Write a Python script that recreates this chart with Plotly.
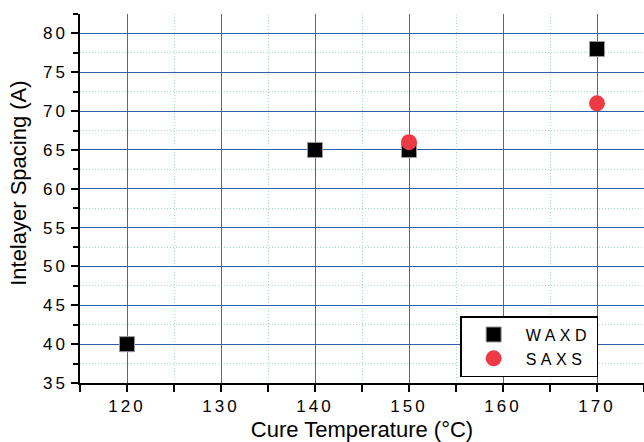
import plotly.graph_objects as go

waxd_x = [120, 140, 150, 170]
waxd_y = [40, 65, 65, 78]
saxs_x = [150, 170]
saxs_y = [66, 71]

fig = go.Figure()
fig.add_trace(go.Scatter(x=waxd_x, y=waxd_y, mode="markers", name="WAXD",
                         marker=dict(symbol="square", size=15, color="black",
                                     line=dict(color="#9a9a9a", width=1))))
fig.add_trace(go.Scatter(x=saxs_x, y=saxs_y, mode="markers", name="SAXS",
                         marker=dict(symbol="circle", size=16, color="#ee3a44",
                                     line=dict(width=0))))

font = "Liberation Sans, Arial, sans-serif"
fig.update_layout(
    width=644, height=442,
    margin=dict(l=80, r=0, t=14, b=59),
    plot_bgcolor="white", paper_bgcolor="white",
    font=dict(family=font, color="black"),
    showlegend=True,
    legend=dict(x=0.674, y=0.016, xanchor="left", yanchor="bottom",
                bgcolor="white", bordercolor="black", borderwidth=1.5,
                font=dict(size=16, family=font), itemwidth=54,
                tracegroupgap=0),
    annotations=[dict(text="Intelayer Spacing (A)", xref="paper", yref="paper",
                      x=-0.108, y=0.54, xanchor="center", yanchor="middle",
                      textangle=-90, showarrow=False,
                      font=dict(size=22, family=font, color="black"))],
)
fig.update_xaxes(
    range=[115, 175], dtick=10, tick0=120,
    showline=True, linecolor="black", linewidth=1.5,
    ticks="outside", ticklen=7, tickwidth=1.5, tickcolor="black",
    showgrid=True, gridcolor="#3a6bb8", gridwidth=1,
    zeroline=False, mirror=False,
    tickfont=dict(size=17, family=font),
    title=dict(text="Cure Temperature (°C)", font=dict(size=22, family=font), standoff=8),
    minor=dict(dtick=5, tick0=115, ticks="outside", ticklen=7, tickwidth=1.5, tickcolor="black",
               showgrid=True, gridcolor="#9fe0bb", griddash="1px,2px", gridwidth=1),
)
fig.update_yaxes(
    range=[35, 82.5], dtick=5, tick0=35,
    showline=True, linecolor="black", linewidth=1.5,
    ticks="outside", ticklen=7, tickwidth=1.5, tickcolor="black",
    showgrid=True, gridcolor="#2f5fae", gridwidth=1.2,
    zeroline=False,
    tickfont=dict(size=17, family=font),
    minor=dict(dtick=2.5, tick0=35, ticks="outside", ticklen=5, tickwidth=1.5, tickcolor="black",
               showgrid=True, gridcolor="#9fe0bb", griddash="1px,2px", gridwidth=1),
)

post = """
var s = document.createElement('style');
s.innerHTML = '.xtick text, .ytick text {letter-spacing: 3px;} .legendtext {letter-spacing: 4.5px;}';
document.head.appendChild(s);
var gd = document.getElementById('{plot_id}');
Plotly.relayout(gd, {'legend.font.size': 16.001, 'xaxis.tickfont.size': 17.001, 'yaxis.tickfont.size': 17.001});
"""
fig.write_html("out.html", post_script=post)
